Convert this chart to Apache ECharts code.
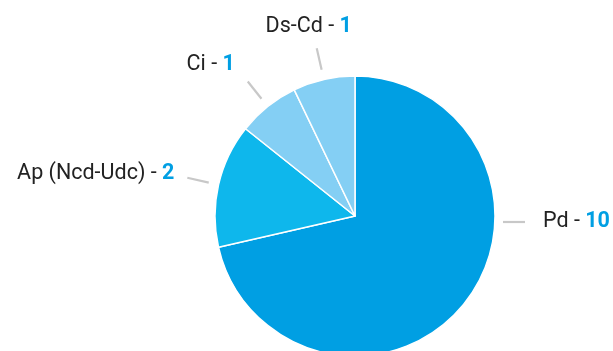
<!DOCTYPE html>
<html>
<head>
<meta charset="utf-8">
<script src="https://cdn.jsdelivr.net/npm/echarts@6/dist/echarts.min.js"></script>
<style>
  html, body { margin: 0; padding: 0; background: #fff; }
  #chart { width: 613px; height: 351px; }
</style>
</head>
<body>
<div id="chart"></div>
<script>
// Slices, clockwise from 12 o'clock
const categories = ['Pd', 'Ap (Ncd-Udc)', 'Ci', 'Ds-Cd'];
const values = [10, 2, 1, 1];
const colors = ['#009FE3', '#0EB7EC', '#84CFF4', '#84CFF4'];

// Geometry
const CX = 355, CY = 216, R = 140;
const LINE_START = R + 10, LINE_LEN = 22;

// Per-label placement relative to the end of its leader line
const labelOffsets = [
  null,                                   // Pd: horizontal leader on the right
  { dx: -13, dy: -4, align: 'right' },
  { dx: -13, dy: -17, align: 'right' },
  { dx: -8, dy: -22, align: 'center' }
];

const pieData = categories.map((name, i) => ({
  name: name,
  value: values[i],
  itemStyle: { color: colors[i] }
}));

const chart = echarts.init(document.getElementById('chart'), null, { renderer: 'canvas' });

chart.setOption({
  animation: false,
  backgroundColor: '#ffffff',
  series: [
    {
      type: 'pie',
      center: [CX, CY],
      radius: [0, R],
      startAngle: 90,
      clockwise: true,
      silent: true,
      label: { show: false },
      labelLine: { show: false },
      itemStyle: { borderColor: '#ffffff', borderWidth: 1.5 },
      data: pieData
    },
    {
      // transparent ring carrying the labels and their leader lines
      type: 'pie',
      center: [CX, CY],
      radius: [0, LINE_START],
      startAngle: 90,
      clockwise: true,
      silent: true,
      avoidLabelOverlap: false,
      itemStyle: { color: 'rgba(0,0,0,0)' },
      label: {
        show: true,
        position: 'outside',
        formatter: p => '{n|' + p.name + ' - }{v|' + p.value + '}',
        rich: {
          n: { fontFamily: 'Roboto', fontSize: 21.5, color: '#222222' },
          v: { fontFamily: 'Roboto', fontSize: 21.5, fontWeight: 'bold', color: '#009FE3' }
        }
      },
      labelLine: {
        show: true,
        length: LINE_LEN,
        length2: 0,
        lineStyle: { color: '#c8c8c8', width: 2.2 }
      },
      labelLayout: function (p) {
        const i = p.dataIndex;
        if (i === 0) {
          const y = CY + 6;
          const x0 = CX + R + 8, x1 = x0 + LINE_LEN;
          return {
            x: x1 + 18, y: y, align: 'left', verticalAlign: 'middle',
            labelLinePoints: [[x0, y], [x1, y], [x1, y]]
          };
        }
        const pts = p.labelLinePoints;
        const start = pts[0], end = pts[1];
        const o = labelOffsets[i];
        return {
          x: end[0] + o.dx, y: end[1] + o.dy,
          align: o.align, verticalAlign: 'middle',
          labelLinePoints: [start.slice(), end.slice(), end.slice()]
        };
      },
      data: pieData.map(d => ({ name: d.name, value: d.value }))
    }
  ]
});
</script>
</body>
</html>
